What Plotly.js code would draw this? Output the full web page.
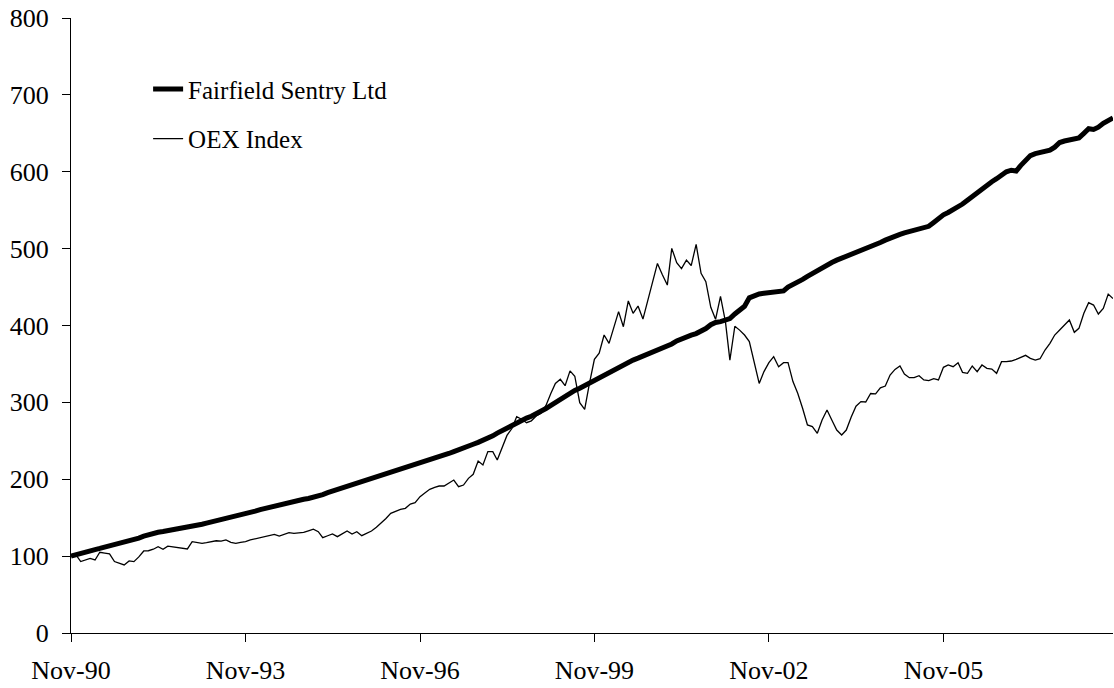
<!DOCTYPE html>
<html>
<head>
<meta charset="utf-8">
<script src="https://cdn.plot.ly/plotly-3.0.1.min.js"></script>
<style>html,body{margin:0;padding:0;background:#fff;}#chart{width:1114px;height:688px;}</style>
</head>
<body>
<div id="chart"></div>
<script>
// Series names
const seriesNames = ["Fairfield Sentry Ltd", "OEX Index"];
// First month of the data (Nov-90), monthly observations
const startYear = 1990, startMonth = 11;
const tickLabelFormat = "%b-%y";

// Fairfield Sentry Ltd, indexed to 100 (monthly, Nov-90 .. Oct-08)
const fairfield = [
  100,102,104,105.5,107,108.5,110,111.5,113,114.5,116,117.5,
  119.5,121.5,123.5,126,128,129.5,131,132,133,134,135,136.5,
  137.5,138.5,140,141.5,143,144.5,146,147,148.5,150.5,152,153.5,
  155,156.5,158.5,160.5,162,164,165,166.5,168,169.5,171,172.5,
  174,175,176.5,178,180,182.5,184.5,186,188,190.5,192.5,194.5,
  196.5,198.5,200.5,202,204,206,208,210,212,214,216,218,
  220,222,224.5,227,229,231,233.5,236,238,240.5,243,245.5,
  248,250.5,253.5,256.5,260,263.5,267,270.5,274,277,279.5,282,
  285,288.5,292,296,300,304,308,312,315.5,318.5,322,325.5,
  329,332.5,336,339,342,345,348.5,352,355,357.5,360,362.5,
  365,367.5,370,372.5,376,380,383,385.5,387.5,389.5,392,396,
  401,404,405,406.5,409,415,420,425,436,439,441,442,
  442.5,443,443.5,445,450,453,456,460,464,468,472,476,
  479,482,485,487.5,489.5,492,494,497,500,502.5,505,508,
  511,514,516,518.5,520.5,522,524,526,527.5,529,534,540,
  544,547,550.5,554,558,563,568,573,577,582,587,591,
  595,600,602,601,608,615,621,623.5,625,626.5,628,632,
  638,640,641,642,644,650,656,655,658,663,667,670
];

// OEX Index, indexed to 100 (monthly, Nov-90 .. Oct-08)
const oex = [
  100,102,93,95,97,95,105,104,103,93,91,88.5,
  93.7,92.8,99,106.7,107,109,112.3,108.8,113,112,111,111,
  109.3,118.8,117.5,116.6,117.5,119,120,119.5,121,118,116.6,118,
  119,121,122.5,124,125,126.5,128.3,126,128,130.5,129.5,130,
  131,133,135,131.8,124,126.5,128.8,125.3,129,132.7,128.8,131.8,
  126.6,129.5,132.7,137.5,142.7,149,155.7,158.5,160.9,162.2,167.8,169.5,
  177.3,182,186.9,189.5,191.2,191.2,195,199,190.4,192.5,201.2,206.4,
  223.7,218.5,235.9,235.9,225,242,257,266,281.4,278,273.6,276,
  282.3,285.7,296,312,324.7,330,321.7,341,334,299.6,291,324.7,
  356,364,387.6,376.8,397,418,398.4,432,415.8,425.3,408.4,432,
  456,480.8,466,452.6,500.3,481.7,474,485,478,505.5,467.8,457,
  423.6,408,438,405,355,399,394,387.6,379,352,324.7,340,
  351.6,359.4,346.4,351.6,351.6,327,311.8,292,270.6,268.4,259.8,277,
  290,277,264,257.6,264,281,295,301,300.5,311.5,311,319,
  321.3,335.6,342.9,347.3,336.9,332.1,332.1,334.7,329.1,328.2,330.8,329.1,
  345.6,348.6,346.4,351.6,339,337.8,347.3,339.9,348.6,344.3,343.4,337.8,
  353,353,353.8,356,358.1,361.2,357.3,355.1,356.8,368.1,376.8,387.6,
  394.1,400.6,407.1,391.1,396.3,415.8,429.7,426.6,414.9,422.3,440.9,435
];

// Month dates for the category axis
const months = [];
for (let i = 0; i < fairfield.length; i++) {
  const k = startMonth - 1 + i;
  const y = startYear + Math.floor(k / 12);
  const m = (k % 12) + 1;
  months.push(y + "-" + String(m).padStart(2, "0") + "-01");
}

const tickFont = {family: "Liberation Serif, Times New Roman, serif", size: 26, color: "#000"};
const legendFont = {family: "Liberation Serif, Times New Roman, serif", size: 25, color: "#000"};

const traces = [
  {x: months, y: fairfield, name: seriesNames[0], type: "scatter", mode: "lines",
   line: {color: "#000", width: 5}, legendgroup: "a"},
  {x: months, y: oex, name: seriesNames[1], type: "scatter", mode: "lines",
   line: {color: "#000", width: 1.3}, legendgroup: "b"}
];

const layout = {
  width: 1114, height: 688,
  margin: {l: 71, r: 1, t: 18, b: 55},
  paper_bgcolor: "#fff", plot_bgcolor: "#fff",
  font: tickFont,
  showlegend: true,
  legend: {x: 0.074, y: 0.9215, xanchor: "left", yanchor: "top",
           bgcolor: "rgba(0,0,0,0)", font: legendFont, traceorder: "grouped",
           tracegroupgap: 14, itemwidth: 30},
  xaxis: {type: "date", range: [months[0], months[months.length - 1]],
          tick0: months[0], dtick: "M36", tickformat: tickLabelFormat,
          ticks: "outside", ticklen: 8, tickcolor: "#000", tickwidth: 1,
          showline: true, linecolor: "#000", linewidth: 1,
          showgrid: false, zeroline: false, tickfont: tickFont, ticklabelstandoff: 6},
  yaxis: {range: [0, 800], dtick: 100, tick0: 0,
          ticks: "outside", ticklen: 8, tickcolor: "#000", tickwidth: 1,
          showline: true, linecolor: "#000", linewidth: 1,
          showgrid: false, zeroline: false, tickfont: tickFont, ticklabelstandoff: 8}
};

Plotly.newPlot("chart", traces, layout, {staticPlot: true, displayModeBar: false});
</script>
</body>
</html>
